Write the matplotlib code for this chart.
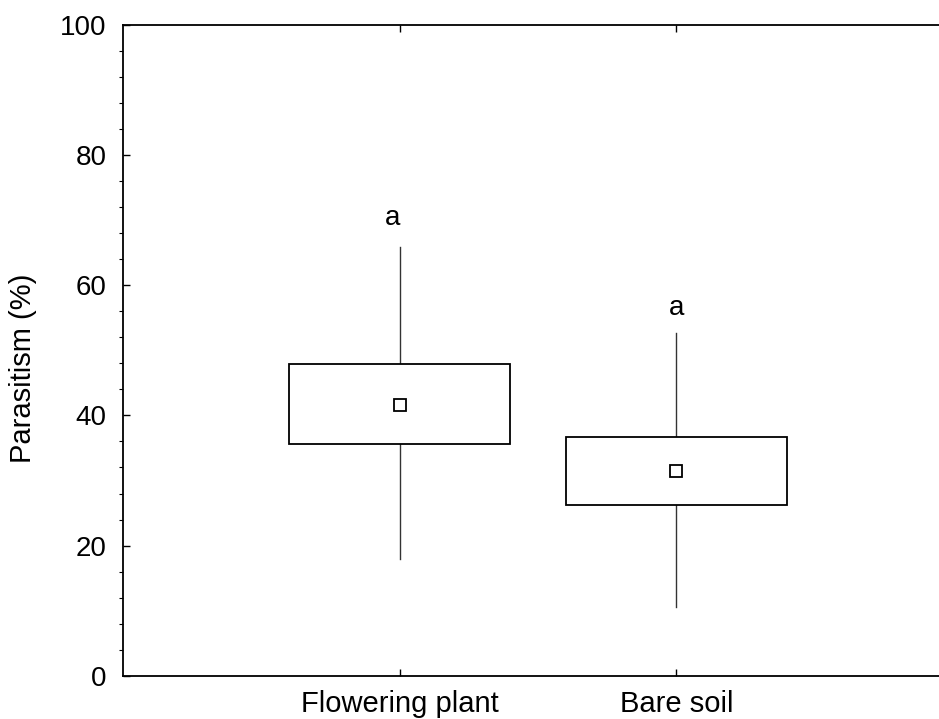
import matplotlib.pyplot as plt
from matplotlib.ticker import MultipleLocator
from matplotlib.patches import Rectangle

plt.rcParams['font.family'] = ['Liberation Sans', 'DejaVu Sans']

categories = ['Flowering plant', 'Bare soil']
means = [41.6, 31.5]
box_low = [35.6, 26.3]
box_high = [47.9, 36.7]
whisk_low = [17.9, 10.6]
whisk_high = [65.9, 52.7]
letters = ['a', 'a']
letter_y = [70.3, 56.5]
letter_x_shift = [-0.025, 0.0]

fig = plt.figure(figsize=(9.39, 7.19), dpi=100)
ax = fig.add_axes([0.131, 0.0602, 0.884, 0.905])

box_w = 0.8
for i, name in enumerate(categories):
    x = i + 1
    ax.plot([x, x], [box_high[i], whisk_high[i]], color='#333333', lw=1.0, zorder=1)
    ax.plot([x, x], [whisk_low[i], box_low[i]], color='#333333', lw=1.0, zorder=1)
    ax.add_patch(Rectangle((x - box_w / 2, box_low[i]), box_w, box_high[i] - box_low[i],
                           facecolor='white', edgecolor='black', lw=1.3, zorder=2))
    ax.plot(x, means[i], marker='s', markersize=8, markerfacecolor='white',
            markeredgecolor='black', markeredgewidth=1.3, zorder=3)
    ax.text(x + letter_x_shift[i], letter_y[i], letters[i], ha='center', va='center',
            fontsize=20)

ax.set_xlim(0, 3)
ax.set_ylim(0, 100)
ax.set_xticks([1, 2])
ax.set_xticklabels(categories, fontsize=21)
ax.yaxis.set_major_locator(MultipleLocator(20))
ax.yaxis.set_minor_locator(MultipleLocator(4))
ax.set_ylabel('Parasitism (%)', fontsize=21)
ax.yaxis.set_label_coords(-0.104, 0.473)

ax.spines['right'].set_visible(False)
for s in ['left', 'bottom', 'top']:
    ax.spines[s].set_linewidth(1.3)
ax.tick_params(axis='both', direction='in', width=1.0)
ax.tick_params(axis='y', labelsize=20)
ax.tick_params(axis='x', top=True, length=5, pad=10)
ax.tick_params(axis='y', which='major', length=5, pad=12)
ax.tick_params(axis='y', which='minor', length=3, width=0.8)

fig.savefig('out.png', dpi=100)
